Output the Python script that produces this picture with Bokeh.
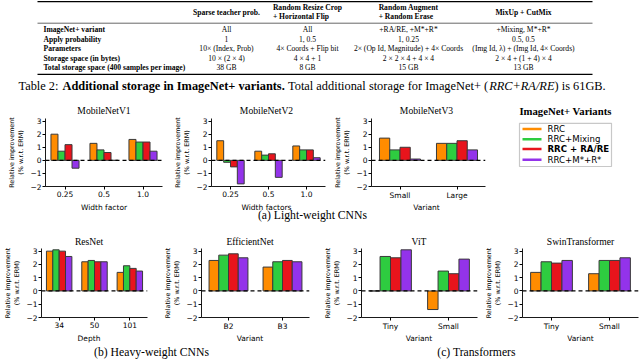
from bokeh.plotting import figure
from bokeh.models import (FactorRange, Range1d, ColumnDataSource, Span, FixedTicker,
                          BoxAnnotation, Label)
from bokeh.transform import dodge
from bokeh.layouts import row, column
from bokeh.core.properties import value
from bokeh.embed import file_html
from bokeh.resources import INLINE

# ---------------- data ----------------
VARIANTS = ["RRC", "RRC+Mixing", "RRC + RA/RE", "RRC+M*+R*"]
VARIANT_WEIGHT = ["normal", "normal", "bold", "normal"]
COLORS = ["#ff8c00", "#2ecc40", "#e8141c", "#9333ea"]

MNV1_CATS = ["0.25", "0.5", "1.0"]
MNV1_VALS = [[2.0, 1.3, 1.6], [0.7, 0.8, 1.4], [1.2, 0.6, 1.4], [-0.6, 0.0, 0.7]]
MNV2_CATS = ["0.25", "0.5", "1.0"]
MNV2_VALS = [[1.5, 0.7, 1.1], [-0.15, 0.4, 0.8], [-0.5, 0.5, 0.8], [-1.8, -1.3, 0.2]]
MNV3_CATS = ["Small", "Large"]
MNV3_VALS = [[1.7, 1.3], [0.8, 1.3], [1.0, 1.5], [0.1, 0.8]]
RESNET_CATS = ["34", "50", "101"]
RESNET_VALS = [[3.0, 2.2, 1.4], [3.1, 2.3, 1.9], [3.0, 2.2, 1.7], [2.6, 2.2, 1.5]]
EFFNET_CATS = ["B2", "B3"]
EFFNET_VALS = [[2.3, 1.8], [2.7, 2.2], [2.8, 2.3], [2.5, 2.2]]
VIT_CATS = ["Tiny", "Small"]
VIT_VALS = [[0.0, -1.4], [2.6, 1.5], [2.5, 1.3], [3.1, 2.4]]
SWIN_CATS = ["Tiny", "Small"]
SWIN_VALS = [[1.4, 1.3], [2.2, 2.3], [2.1, 2.3], [2.3, 2.5]]
Y_TICKS = [-2, -1, 0, 1, 2, 3]
Y_LABEL = "Relative improvement\n(% w.r.t. ERM)"

ROW1_TITLES = ["MobileNetV1", "MobileNetV2", "MobileNetV3"]
ROW1_XLABELS = ["Width factor", "Width factors", "Variant"]
ROW2_TITLES = ["ResNet", "EfficientNet", "ViT", "SwinTransformer"]
ROW2_XLABELS = ["Depth", "Variant", "Variant", "Variant"]
SUBCAPTIONS = ["(a) Light-weight CNNs", "(b) Heavy-weight CNNs", "(c) Transformers"]
LEGEND_TITLE = "ImageNet+ Variants"

TABLE_HEADERS = [["Sparse teacher prob."], ["Random Resize Crop", "+ Horizontal Flip"],
                 ["Random Augment", "+ Random Erase"], ["MixUp + CutMix"]]
TABLE_ROW_LABELS = ["ImageNet+ variant", "Apply probability", "Parameters",
                    "Storage space (in bytes)", "Total storage space (400 samples per image)"]
TABLE_COL1 = ["All", "1", "10\u00d7 (Index, Prob)", "10 \u00d7 (2 \u00d7 4)", "38 GB"]
TABLE_COL2 = ["All", "1, 0.5", "4\u00d7 Coords + Flip bit", "4 \u00d7 4 + 1", "8 GB"]
TABLE_COL3 = ["+RA/RE, +M*+R*", "1, 0.25", "2\u00d7 (Op Id, Magnitude) + 4\u00d7 Coords",
              "2 \u00d7 2 \u00d7 4 + 4 \u00d7 4", "15 GB"]
TABLE_COL4 = ["+Mixing, M*+R*", "0.5, 0.5", "(Img Id, \u03bb) + (Img Id, 4\u00d7 Coords)",
              "2 \u00d7 4 + (1 + 4) \u00d7 4", "13 GB"]
CAPTION = [("Table 2: ", "normal"), ("Additional storage in ImageNet+ variants.", "bold"),
           (" Total additional storage for ImageNet+ (", "normal"), ("RRC+RA/RE", "italic"),
           (") is 61GB.", "normal")]

# ---------------- styling / layout ----------------
SERIF = "Liberation Serif"
SANS = "DejaVu Sans"
BAR_W = 0.18
W = 640

# Times metrics (per 1000 em) to place mixed-style caption pieces
_LOW = " abcdefghijklmnopqrstuvwxyz"
_UP = "ABCDEFGHIJKLMNOPQRSTUVWXYZ"
TR = dict(zip(_LOW, [250, 444, 500, 444, 500, 444, 333, 500, 500, 278, 278, 500, 278, 778, 500,
                     500, 500, 500, 333, 389, 278, 500, 500, 722, 500, 500, 444]))
TR.update(zip(_UP, [722, 667, 667, 722, 611, 556, 722, 722, 333, 389, 722, 611, 889, 722, 722,
                    556, 722, 667, 556, 611, 722, 722, 944, 722, 722, 611]))
TR.update({c: 500 for c in "0123456789"})
TR.update({":": 278, ".": 250, ",": 250, "(": 333, ")": 333, "+": 564, "/": 278, "-": 333})
TB = dict(zip(_LOW, [250, 500, 556, 444, 556, 444, 333, 500, 556, 278, 333, 556, 278, 833, 556,
                     500, 556, 556, 444, 389, 333, 556, 500, 722, 500, 500, 444]))
TB.update(zip(_UP, [722, 667, 722, 722, 667, 611, 778, 778, 389, 500, 778, 667, 944, 722, 778,
                    611, 778, 722, 556, 667, 722, 722, 1000, 722, 722, 667]))
TB.update({c: 500 for c in "0123456789"})
TB.update({":": 333, ".": 250, ",": 250, "(": 333, ")": 333, "+": 570, "/": 278, "-": 333})
TI = dict(TR)
TI.update({"R": 611, "C": 667, "A": 611, "E": 611, "+": 675})
METRICS = {"normal": TR, "bold": TB, "italic": TI}


def text_width(s, style, size):
    m = METRICS[style]
    return sum(m.get(ch, 500) for ch in s) * size / 1000.0


def blank(w, h):
    p = figure(width=w, height=h, x_range=Range1d(0, w), y_range=Range1d(h, 0),
               x_axis_location=None, y_axis_location=None, min_border=0,
               output_backend="svg", toolbar_location=None)
    p.outline_line_color = None
    p.grid.visible = False
    return p


def put(p, x, y, text, font=SERIF, size="9.6px", style="normal", align="center"):
    p.add_layout(Label(x=x, y=y, text=text, text_font=font, text_font_size=size,
                       text_font_style=style, text_align=align, text_baseline="middle",
                       text_color="black"))


# ---------------- table ----------------
TAB_H = 93
TAB_FS = 7.6
COL_X = [226, 307, 408, 523]
ROW_Y = [29.3, 38.7, 48.3, 57.7, 66.7]
RULE_Y = [1.2, 22.7, 73.8]
tab = blank(W, TAB_H)
tab.segment(x0=[37] * 3, x1=[592] * 3, y0=RULE_Y, y1=RULE_Y,
            line_color="black", line_width=[1.3, 0.6, 1.3])
tab.text(x=[43] * 5, y=ROW_Y, text=TABLE_ROW_LABELS, text_font=value(SERIF),
         text_font_style="bold", text_font_size=f"{TAB_FS}px", text_align="left",
         text_baseline="middle", text_color="black")
for cx, col in zip(COL_X, [TABLE_COL1, TABLE_COL2, TABLE_COL3, TABLE_COL4]):
    tab.text(x=[cx] * len(col), y=ROW_Y, text=col, text_font=value(SERIF),
             text_font_size=f"{TAB_FS}px", text_align="center", text_baseline="middle",
             text_color="black")
for cx, hdr in zip(COL_X, TABLE_HEADERS):
    if len(hdr) == 1:
        tab.text(x=[cx], y=[12.0], text=hdr, text_font=value(SERIF), text_font_style="bold",
                 text_font_size=f"{TAB_FS}px", text_align="center", text_baseline="middle",
                 text_color="black")
    else:
        left = cx - text_width(hdr[0], "bold", TAB_FS) / 2
        tab.text(x=[left, left], y=[6.5, 15.5], text=hdr, text_font=value(SERIF),
                 text_font_style="bold", text_font_size=f"{TAB_FS}px", text_align="left",
                 text_baseline="middle", text_color="black")
CAP_FS = 12.37
cursor = 18.0
for seg, style in CAPTION:
    lead = len(seg) - len(seg.lstrip(" "))
    x0 = cursor + text_width(" " * lead, style, CAP_FS)
    put(tab, x0, 85.0, seg.strip(), size=f"{CAP_FS}px", style=style, align="left")
    cursor += text_width(seg, style, CAP_FS)


# ---------------- bar charts ----------------
def chart(cats, vals, w, h, left, right, top, bottom):
    p = figure(width=w, height=h, x_range=FactorRange(factors=cats), y_range=Range1d(-2, 3.2),
               output_backend="svg", toolbar_location=None,
               min_border_left=left, min_border_right=right, min_border_top=top,
               min_border_bottom=bottom)
    p.outline_line_color = None
    p.xgrid.visible = False
    p.ygrid.visible = False
    data = {"cat": cats}
    for i, v in enumerate(vals):
        data[f"s{i}"] = v
    src = ColumnDataSource(data)
    for i in range(len(vals)):
        p.vbar(x=dodge("cat", (i - 1.5) * BAR_W, range=p.x_range), top=f"s{i}", bottom=0,
               width=BAR_W, source=src, fill_color=COLORS[i], line_color="#3a3a3a",
               line_width=1)
    p.add_layout(Span(location=0, dimension="width", line_color="black", line_width=1.3,
                      line_dash="4 3"))
    p.yaxis.ticker = FixedTicker(ticks=Y_TICKS)
    p.yaxis.axis_label = Y_LABEL
    for ax in (p.xaxis[0], p.yaxis[0]):
        ax.axis_line_width = 0.9
        ax.axis_line_color = "black"
        ax.major_tick_out = 3
        ax.major_tick_in = 0
        ax.minor_tick_out = 0
        ax.minor_tick_in = 0
        ax.major_tick_line_color = "black"
        ax.major_label_text_font = SANS
        ax.major_label_text_font_size = "7.5px"
        ax.major_label_text_color = "black"
        ax.major_label_standoff = 1
        ax.axis_label_text_font = SANS
        ax.axis_label_text_font_style = "normal"
        ax.axis_label_text_color = "black"
        ax.axis_label_standoff = 2
    p.yaxis.axis_label_text_font_size = "6.4px"
    return p


# panel geometry: (figure width, left border, right border)
ROW1_GEOM = [(170, 45, 8), (160, 37, 5), (160, 37, 5)]
ROW2_GEOM = [(160, 30, 13), (160, 30, 11), (160, 40, 3), (160, 42, 2)]
CH1_H, CH2_H = 85, 86


def frame_centers(geom):
    out, x = [], 0
    for w, l, r in geom:
        out.append(x + l + (w - l - r) / 2)
        x += w
    return out


C1 = frame_centers(ROW1_GEOM)
C2 = frame_centers(ROW2_GEOM)

row1_charts = [chart(c, v, g[0], CH1_H, g[1], g[2], 1, 13)
               for c, v, g in zip([MNV1_CATS, MNV2_CATS, MNV3_CATS],
                                  [MNV1_VALS, MNV2_VALS, MNV3_VALS], ROW1_GEOM)]
row2_charts = [chart(c, v, g[0], CH2_H, g[1], g[2], 1, 13)
               for c, v, g in zip([RESNET_CATS, EFFNET_CATS, VIT_CATS, SWIN_CATS],
                                  [RESNET_VALS, EFFNET_VALS, VIT_VALS, SWIN_VALS], ROW2_GEOM)]

# ---------------- legend panel (drawn by hand so one entry can be bold) ----------------
LEG_W = 150
LEG_ITEM_Y = [13, 26, 38, 51.5]
leg = blank(LEG_W, CH1_H)
leg.segment(x0=[32] * 4, x1=[51] * 4, y0=LEG_ITEM_Y, y1=LEG_ITEM_Y, line_color=COLORS,
            line_width=2.5)
leg.text(x=[57] * 4, y=LEG_ITEM_Y, text=VARIANTS, text_font=value(SANS),
         text_font_style=VARIANT_WEIGHT, text_font_size="8.6px", text_align="left",
         text_baseline="middle", text_color="black")
leg.add_layout(BoxAnnotation(left=29, right=121, top=6, bottom=60, fill_alpha=0,
                             line_color="#c8c8c8", line_alpha=1, line_width=1.2))

# ---------------- title / label strips ----------------
t1 = blank(W, 24)
for cx, t in zip(C1, ROW1_TITLES):
    put(t1, cx, 17, t)
put(t1, 490 + 75, 17, LEGEND_TITLE, size="10.7px", style="bold")

b1 = blank(W, 20)
for cx, t in zip(C1, ROW1_XLABELS):
    put(b1, cx, 5, t, font=SANS, size="7.5px")
put(b1, 312, 13, SUBCAPTIONS[0], size="11.7px")

t2 = blank(W, 25)
for cx, t in zip(C2, ROW2_TITLES):
    put(t2, cx, 19, t)

b2 = blank(W, 27)
for cx, t in zip(C2, ROW2_XLABELS):
    put(b2, cx, 4.7, t, font=SANS, size="7.5px")
put(b2, 151, 19, SUBCAPTIONS[1], size="11.7px")
put(b2, 476, 19, SUBCAPTIONS[2], size="11.7px")

layout = column(tab, t1, row(*row1_charts, leg, spacing=0), b1,
                t2, row(*row2_charts, spacing=0), b2, spacing=0)

with open("out.html", "w") as f:
    f.write(file_html(layout, INLINE))
